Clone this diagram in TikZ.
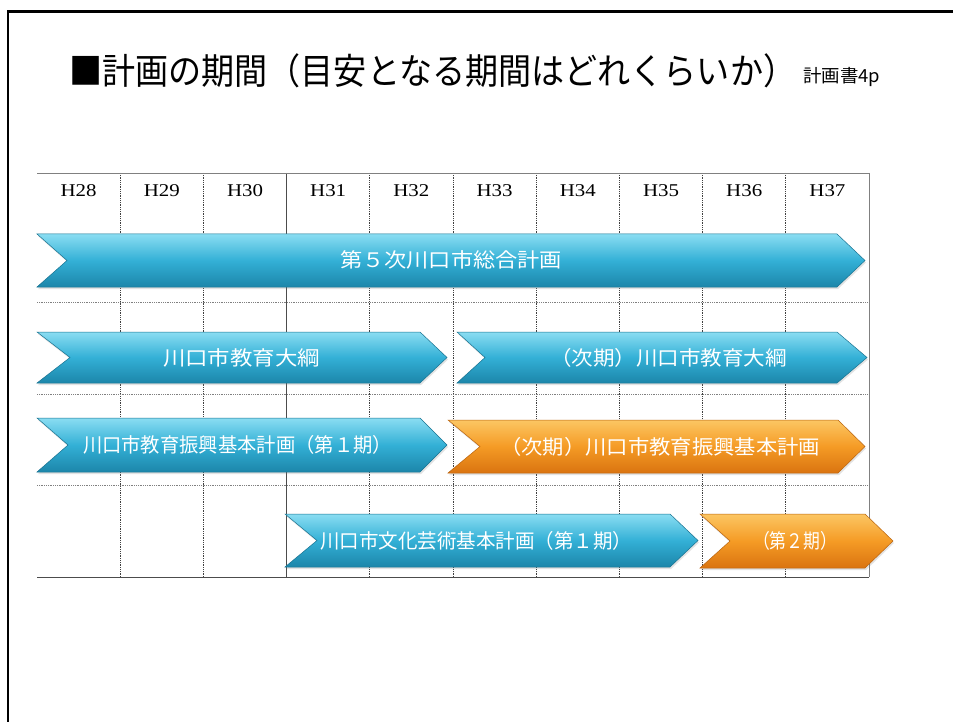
\documentclass[tikz,border=0pt]{standalone}
\usepackage{graphicx}
\usepackage{fontspec}
\setmainfont{Liberation Serif}
\newfontfamily\jpfont{Noto Sans CJK JP}
\usetikzlibrary{shadows}
\definecolor{bTop}{HTML}{8ADDF2}
\definecolor{bMid}{HTML}{33B0D6}
\definecolor{bBot}{HTML}{1C86AA}
\definecolor{oTop}{HTML}{FCC663}
\definecolor{oMid}{HTML}{F59B25}
\definecolor{oBot}{HTML}{DA7410}
\definecolor{gridc}{HTML}{808080}
% #1 left x, #2 notch x, #3 flat end x, #4 tip x, #5 top y, #6 bottom y, #7 style
\newcommand\chevron[7]{%
  \path[#7] (#1,#5) -- (#3,#5) -- (#4,{(#5+#6)/2}) -- (#3,#6) -- (#1,#6) -- (#2,{(#5+#6)/2}) -- cycle;}
\tikzset{
  bluechev/.style={top color=bTop, bottom color=bBot, middle color=bMid, draw=bBot!85!black, line width=0.5pt,
    drop shadow={opacity=0.22, shadow xshift=1pt, shadow yshift=-2pt}},
  orangechev/.style={top color=oTop, bottom color=oBot, middle color=oMid, draw=oBot!85!black, line width=0.5pt,
    drop shadow={opacity=0.22, shadow xshift=1pt, shadow yshift=-2pt}},
  lbl/.style={text=white, inner sep=0pt, font=\jpfont\fontsize{20}{20}\selectfont},
  hdr/.style={text=black, inner sep=0pt, font=\fontsize{18}{18}\selectfont},
  gridsolid/.style={draw=gridc, line width=0.9pt},
  griddot/.style={draw=black!75, line width=0.8pt, densely dotted},
  gridhdot/.style={draw=gridc, line width=0.8pt, densely dotted},
  framecol/.style={draw=black, line width=2.7pt}
}
\begin{document}
\begin{tikzpicture}[x=1pt,y=-1pt]
\useasboundingbox (0,0) rectangle (953,722);
\fill[white] (0,0) rectangle (953,722);
% frame
\draw[framecol] (960,11.3) -- (8,11.3) -- (8,730);
% title
\node[anchor=west, inner sep=0pt, font=\jpfont\fontsize{36}{36}\selectfont] (title) at (69,71)
  {\resizebox{727pt}{\height}{■計画の期間（目安となる期間はどれくらいか）}};
\node[anchor=base west, inner sep=0pt, font=\jpfont\fontsize{18}{18}\selectfont] (pageref) at (803,83)
  {\resizebox{77pt}{\height}{計画書4p}};
% grid
\foreach \k in {1,2,4,5,6,7,8,9} {
  \draw[griddot] ({37+83.2*\k},173) -- ({37+83.2*\k},577);
}
\draw[gridsolid, draw=black!70] ({37+83.2*3},173) -- ({37+83.2*3},577);
\draw[gridsolid] (869,173) -- (869,577);
\draw[gridsolid] (37,173) -- (869,173);
\draw[gridhdot] (37,302) -- (869,302);
\draw[gridhdot] (37,394) -- (869,394);
\draw[gridhdot] (37,485) -- (869,485);
\draw[gridsolid, draw=black!70] (37,577) -- (869,577);
% headers
\foreach \i [count=\k from 0] in {28,...,37} {
  \node[hdr] (h\i) at ({37+83.2*(\k+0.5)},191) {\resizebox{36pt}{\height}{H\i}};
}
% chevrons
\chevron{37}{67}{837}{865}{234}{287}{bluechev}
\chevron{37}{70}{420}{447}{332}{383}{bluechev}
\chevron{457}{485}{837}{867}{332}{383}{bluechev}
\chevron{37}{68}{420}{447}{418}{472}{bluechev}
\chevron{448}{480}{838}{865}{420}{473}{orangechev}
\chevron{285}{317}{670}{698}{514}{567}{bluechev}
\chevron{700}{730}{865}{893}{514}{568}{orangechev}
% labels
\node[lbl] (p1) at (451,260) {\resizebox{222pt}{\height}{第５次川口市総合計画}};
\node[lbl] (p2) at (241.5,357.5) {\resizebox{157pt}{\height}{川口市教育大綱}};
\node[lbl] (p3) at (668.5,357.5) {\resizebox{237pt}{\height}{（次期）川口市教育大綱}};
\node[lbl] (p4) at (237.5,445) {\resizebox{309pt}{\height}{川口市教育振興基本計画（第１期）}};
\node[lbl] (p5) at (660,446.5) {\resizebox{320pt}{\height}{（次期）川口市教育振興基本計画}};
\node[lbl] (p6) at (476,540.5) {\resizebox{312pt}{\height}{川口市文化芸術基本計画（第１期）}};
\node[lbl] (p7) at (795,541) {\resizebox{84pt}{\height}{（第２期）}};
\end{tikzpicture}
\end{document}
